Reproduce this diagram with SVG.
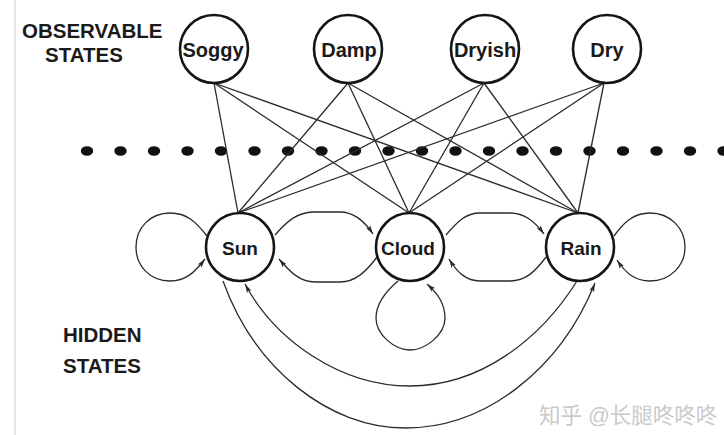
<svg xmlns="http://www.w3.org/2000/svg" width="724" height="435" viewBox="0 0 724 435">
<style>
.node circle{fill:#fff;stroke:#151515;stroke-width:2.6}
.node text{font-family:"Liberation Sans",Arial,sans-serif;font-weight:bold;fill:#1a1a1a;text-anchor:middle}
.top text{font-size:20px}
.bot text{font-size:19px}
.lbl{font-family:"Liberation Sans",Arial,sans-serif;font-weight:bold;font-size:20.5px;fill:#1a1a1a}
.emit line{stroke:#2a2a2a;stroke-width:1.3}
.trans path{fill:none;stroke:#2a2a2a;stroke-width:1.3;marker-end:url(#arr)}
.dot{fill:#111}
</style>
<defs>
<marker id="arr" markerWidth="10" markerHeight="6" refX="9" refY="3" orient="auto" markerUnits="userSpaceOnUse">
<path d="M0,0.5 L9,3 L0,5.5 L2,3 Z" fill="#2a2a2a"/>
</marker>
</defs>
<rect x="0" y="0" width="724" height="435" fill="#fff"/>
<line x1="15" y1="0" x2="15" y2="435" stroke="#e6e6e6" stroke-width="2"/>

<text class="lbl" x="22" y="38">OBSERVABLE</text>
<text class="lbl" x="45" y="62">STATES</text>
<text class="lbl" x="63" y="342">HIDDEN</text>
<text class="lbl" x="63" y="373">STATES</text>

<g id="dots">
<ellipse class="dot" cx="87" cy="151" rx="6.2" ry="4.8"/>
<ellipse class="dot" cx="120.5" cy="151" rx="6.2" ry="4.8"/>
<ellipse class="dot" cx="154" cy="151" rx="6.2" ry="4.8"/>
<ellipse class="dot" cx="187.5" cy="151" rx="6.2" ry="4.8"/>
<ellipse class="dot" cx="221" cy="151" rx="6.2" ry="4.8"/>
<ellipse class="dot" cx="254.5" cy="151" rx="6.2" ry="4.8"/>
<ellipse class="dot" cx="288" cy="151" rx="6.2" ry="4.8"/>
<ellipse class="dot" cx="321.5" cy="151" rx="6.2" ry="4.8"/>
<ellipse class="dot" cx="355" cy="151" rx="6.2" ry="4.8"/>
<ellipse class="dot" cx="388.5" cy="151" rx="6.2" ry="4.8"/>
<ellipse class="dot" cx="422" cy="151" rx="6.2" ry="4.8"/>
<ellipse class="dot" cx="455.5" cy="151" rx="6.2" ry="4.8"/>
<ellipse class="dot" cx="489" cy="151" rx="6.2" ry="4.8"/>
<ellipse class="dot" cx="522.5" cy="151" rx="6.2" ry="4.8"/>
<ellipse class="dot" cx="556" cy="151" rx="6.2" ry="4.8"/>
<ellipse class="dot" cx="589.5" cy="151" rx="6.2" ry="4.8"/>
<ellipse class="dot" cx="623" cy="151" rx="6.2" ry="4.8"/>
<ellipse class="dot" cx="656.5" cy="151" rx="6.2" ry="4.8"/>
<ellipse class="dot" cx="690" cy="151" rx="6.2" ry="4.8"/>
<ellipse class="dot" cx="723.5" cy="151" rx="6.2" ry="4.8"/>
</g>

<g id="connectors">
<g class="emit">
<line x1="214" y1="83" x2="238" y2="213"/>
<line x1="214" y1="83" x2="409" y2="213"/>
<line x1="214" y1="83" x2="578" y2="213"/>
<line x1="348" y1="83" x2="238" y2="213"/>
<line x1="348" y1="83" x2="409" y2="213"/>
<line x1="348" y1="83" x2="578" y2="213"/>
<line x1="484" y1="83" x2="238" y2="213"/>
<line x1="484" y1="83" x2="409" y2="213"/>
<line x1="484" y1="83" x2="578" y2="213"/>
<line x1="604" y1="83" x2="238" y2="213"/>
<line x1="604" y1="83" x2="409" y2="213"/>
<line x1="604" y1="83" x2="578" y2="213"/>
</g>
<g class="trans">
<path d="M207,236 C196,222 187,213 170,213 C150,213 136,228 136,247 C136,266 150,281 170,281 C186,281 195,272 205,259"/>
<path d="M275,235 C288,220 298,212 315,212 L340,212 C355,212 365,222 373,234"/>
<path d="M377,257 C366,272 355,282 340,282 L315,282 C300,282 290,272 279,259"/>
<path d="M446,235 C458,221 466,213 480,213 L510,213 C525,213 535,222 544,234"/>
<path d="M546,257 C535,272 525,281 510,281 L480,281 C466,281 457,272 449,259"/>
<path d="M614,236 C624,222 634,213 650,213 C670,213 685,228 685,247 C685,266 670,281 650,281 C634,281 625,272 617,260"/>
<path d="M398,281 C385,292 376,305 376,318 C376,335 395,350 410,350 C425,350 445,335 445,318 C445,303 437,293 427,284"/>
<path d="M577,281 C540,340 480,386 410,386 C340,386 275,340 245,284"/>
<path d="M223,281 C255,370 330,428 405,428 C485,428 560,370 595,283"/>
</g>
</g>

<g id="soggy" class="node top"><circle cx="214" cy="49" r="34"/><text x="213" y="57">Soggy</text></g>
<g id="damp" class="node top"><circle cx="348" cy="49" r="34"/><text x="349" y="57">Damp</text></g>
<g id="dryish" class="node top"><circle cx="485" cy="49" r="34"/><text x="485" y="57">Dryish</text></g>
<g id="dry" class="node top"><circle cx="607" cy="49" r="34"/><text x="607" y="57">Dry</text></g>

<g id="sun" class="node bot"><circle cx="240" cy="247" r="34"/><text x="240" y="255">Sun</text></g>
<g id="cloud" class="node bot"><circle cx="410" cy="247" r="34"/><text x="408" y="255">Cloud</text></g>
<g id="rain" class="node bot"><circle cx="580" cy="247" r="34"/><text x="581" y="255">Rain</text></g>

<text x="539" y="423" font-family="'Liberation Sans','Noto Sans CJK SC',sans-serif" font-size="21.5" fill="#cacaca">知乎 @长腿咚咚咚</text>
</svg>
